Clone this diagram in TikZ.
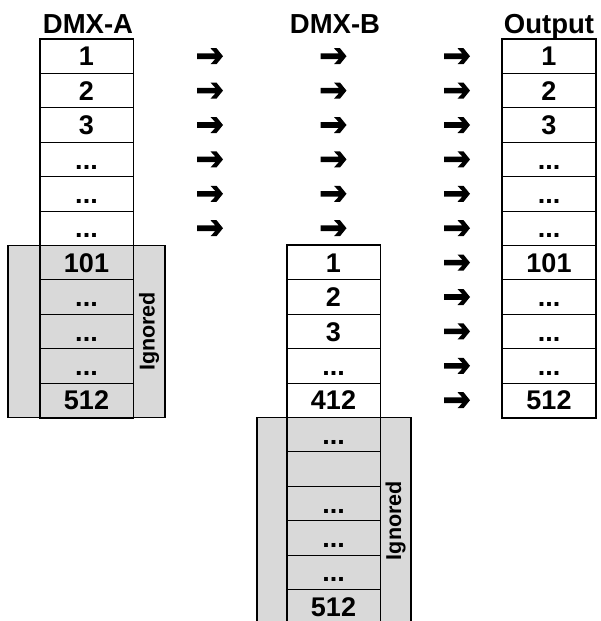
\documentclass[tikz,border=0pt]{standalone}
\usepackage{fontspec}
\setmainfont{Liberation Sans}
\usepackage{tikz}

\definecolor{ignoregray}{RGB}{217,217,217}
\newcommand{\dts}{...}

\tikzset{
    cell/.style={draw, line width=0.8pt, minimum width=93, minimum height=34.4, inner sep=0pt,
        text height=19.5pt, text depth=0pt, font=\fontsize{27}{30}\selectfont\bfseries},
    head/.style={anchor=base, inner sep=0pt, font=\fontsize{27.5}{30}\selectfont\bfseries},
    ignbox/.style={draw, line width=1.5pt, fill=ignoregray, inner sep=0pt},
    ignlabel/.style={rotate=90, inner sep=0pt, font=\fontsize{21.5}{24}\selectfont\bfseries},
    outline/.style={line width=1.5pt},
    flowarrow/.pic={
        \fill[line join=round] (-13,-2.8) -- (5.3,-2.8) -- (0.5,-8) -- (6.5,-8) -- (13,0)
            -- (6.5,8) -- (0.5,8) -- (5.3,2.8) -- (-13,2.8) -- cycle;
    }
}

\begin{document}
\begin{tikzpicture}[x=1pt, y=-1pt]
    \useasboundingbox (0, 0) rectangle (600, 621);

    \node[head] at (88, 33) (headA) {DMX-A};
    \node[head] at (335, 33) (headB) {DMX-B};
    \node[head] at (549, 33) (headO) {Output};

    % ignored channels
    \node[ignbox, minimum width=157, minimum height=172] at (86.5, 331.4) (ignA) {};
    \node[ignbox, minimum width=154, minimum height=206.4] at (334, 520.6) (ignB) {};
    \node[ignlabel] at (149, 331.4) (ignAtext) {Ignored};
    \node[ignlabel] at (395.5, 520.6) (ignBtext) {Ignored};

    % DMX-A
    \foreach \i/\t in {1/1, 2/2, 3/3, 4/\dts, 5/\dts, 6/\dts, 7/101, 8/\dts, 9/\dts, 10/\dts, 11/512}
        \node[cell] at (86.5, {39+(\i-0.5)*34.4}) (a\i) {\t};
    \draw[outline] (a1.north west) rectangle (a11.south east);

    % DMX-B
    \foreach \i/\t in {7/1, 8/2, 9/3, 10/\dts, 11/412, 12/\dts, 13/{}, 14/\dts, 15/\dts, 16/\dts, 17/512}
        \node[cell] at (333.5, {39+(\i-0.5)*34.4}) (b\i) {\t};
    \draw[outline] (b7.north west) rectangle (b17.south east);

    % Output
    \foreach \i/\t in {1/1, 2/2, 3/3, 4/\dts, 5/\dts, 6/\dts, 7/101, 8/\dts, 9/\dts, 10/\dts, 11/512}
        \node[cell] at (549, {39+(\i-0.5)*34.4}) (o\i) {\t};
    \draw[outline] (o1.north west) rectangle (o11.south east);

    % flow arrows
    \foreach \i in {1,...,6} {
        \pic (fa\i) at (210, {39+(\i-0.5)*34.4}) {flowarrow};
        \pic (fb\i) at (333.5, {39+(\i-0.5)*34.4}) {flowarrow};
    }
    \foreach \i in {1,...,11}
        \pic (fo\i) at (457, {39+(\i-0.5)*34.4}) {flowarrow};
\end{tikzpicture}
\end{document}
